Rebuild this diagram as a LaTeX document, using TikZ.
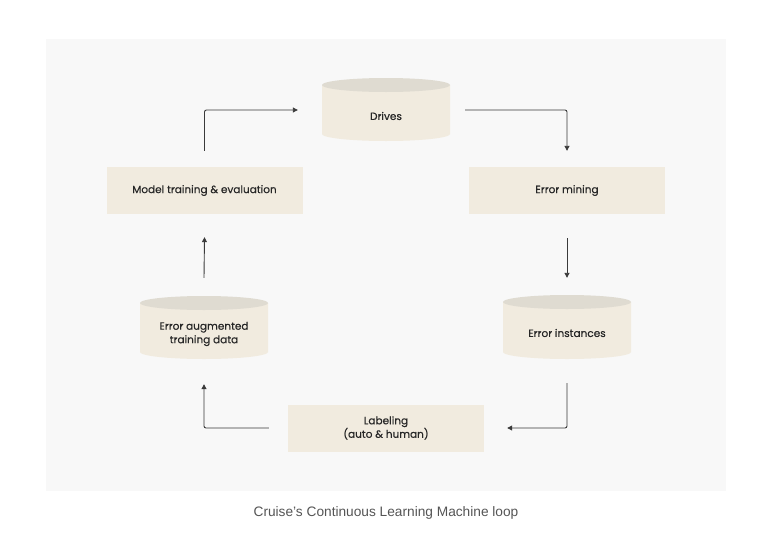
\documentclass[tikz,border=0pt]{standalone}
\usepackage{fontspec}
\setmainfont{Poppins}[FakeBold=0.35]
\newfontfamily\capfont{Liberation Sans}
\usetikzlibrary{arrows.meta,calc}
\definecolor{panel}{HTML}{F8F8F8}
\definecolor{boxfill}{HTML}{F1EBDF}
\definecolor{cyltop}{HTML}{DFDBD1}
\definecolor{arrowc}{HTML}{3A3A3A}
\definecolor{capc}{HTML}{555555}
\tikzset{
  procbox/.style={fill=boxfill, minimum width=196pt, minimum height=47pt, inner sep=0pt, font=\fontsize{10.5}{13.5}\selectfont, align=center, text=black!85},
  cyltext/.style={inner sep=0pt, minimum width=128pt, minimum height=50pt, font=\fontsize{10.5}{13.5}\selectfont, align=center, text=black!85},
  flow/.style={draw=arrowc, line width=0.9pt, rounded corners=2pt, -{Triangle[length=5pt,width=5pt]}},
}
\newcommand{\cyl}[4]{% cx, topy, boty, rx
  \fill[boxfill] (#1-#4,#2) -- (#1-#4,#3) arc[start angle=180,end angle=0,x radius=#4,y radius=7] -- (#1+#4,#2) -- cycle;
  \fill[cyltop] (#1,#2) ellipse[x radius=#4,y radius=7];
}
\begin{document}
\begin{tikzpicture}[x=1pt,y=-1pt]
\useasboundingbox (0,0) rectangle (777,549);
\fill[white] (0,0) rectangle (777,549);
\fill[panel] (46,39) rectangle (726,491);
% cylinders
\cyl{386}{85}{134}{64}
\cyl{204}{303}{352}{64}
\cyl{567}{302}{352}{64}
\node[cyltext] (drives) at (386,116) {Drives};
\node[cyltext] (aug) at (204,334) {Error augmented\\training data};
\node[cyltext] (inst) at (567,333) {Error instances};
% boxes
\node[procbox] (mining) at (567,190.5) {Error mining};
\node[procbox] (model) at (204.5,190.5) {Model training \& evaluation};
\node[procbox] (label) at (386,428) {Labeling\\(auto \& human)};
% connectors
\coordinate (a1) at ($(model.north)+(0,-16)$);
\coordinate (a2) at ($(drives.west)+(-24,-6)$);
\draw[flow] (a1) |- (a2);
\coordinate (b1) at ($(drives.east)+(15,-6)$);
\coordinate (b2) at ($(mining.north)+(0,-16)$);
\draw[flow] (b1) -| (b2);
\coordinate (c1) at ($(mining.south)+(0,24)$);
\coordinate (c2) at ($(inst.north)+(0,-30)$);
\draw[flow] (c1) -- (c2);
\coordinate (d1) at ($(inst.south)+(0,25)$);
\coordinate (d2) at ($(label.east)+(23,0)$);
\draw[flow] (d1) |- (d2);
\coordinate (e1) at ($(label.west)+(-19,0)$);
\coordinate (e2) at ($(aug.south)+(0,25)$);
\draw[flow] (e1) -| (e2);
\coordinate (f1) at ($(aug.north)+(0,-31)$);
\coordinate (f2) at ($(model.south)+(0,23)$);
\draw[flow] (f1) -- (f2);
\node[font=\capfont\fontsize{13.7}{16}\selectfont, text=capc] (cap) at (386,513) {Cruise’s Continuous Learning Machine loop};
\end{tikzpicture}
\end{document}
